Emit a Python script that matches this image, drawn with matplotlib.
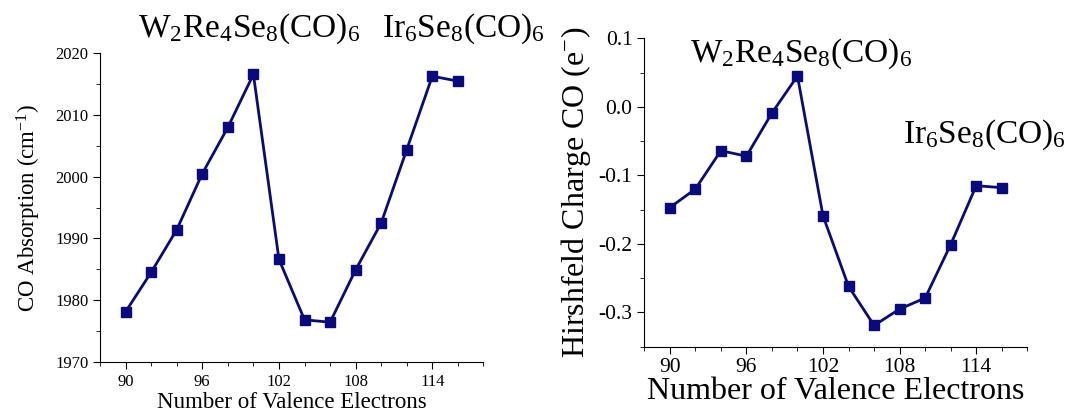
import numpy as np
import matplotlib
matplotlib.use("Agg")
import matplotlib.pyplot as plt
from matplotlib.ticker import MultipleLocator

# Datos: número de electrones de valencia y propiedades del CO
electrons = [90, 92, 94, 96, 98, 100, 102, 104, 106, 108, 110, 112, 114, 116]
co_absorption = [1978.1, 1984.5, 1991.4, 2000.5, 2008.0, 2016.6, 1986.6,
                 1976.8, 1976.4, 1984.9, 1992.5, 2004.4, 2016.3, 2015.5]
hirshfeld_co = [-0.147, -0.120, -0.064, -0.072, -0.009, 0.045, -0.159,
                -0.262, -0.319, -0.295, -0.279, -0.201, -0.115, -0.118]
x_ticks = [90, 96, 102, 108, 114]

plt.rcParams['font.family'] = ['Liberation Serif', 'DejaVu Serif']
plt.rcParams['mathtext.fontset'] = 'custom'
plt.rcParams['mathtext.rm'] = 'Liberation Serif'
plt.rcParams['mathtext.default'] = 'regular'
plt.rcParams['axes.unicode_minus'] = False

color = '#0a0a80'
label_w = r"W$_2$Re$_4$Se$_8$(CO)$_6$"
label_ir = r"Ir$_6$Se$_8$(CO)$_6$"

W, H = 1070, 415
fig = plt.figure(figsize=(W / 100, H / 100), dpi=100)


def estilo(ax, labelsize):
    ax.set_xlim(88, 118)
    ax.set_xticks(x_ticks)
    ax.xaxis.set_minor_locator(MultipleLocator(2))
    ax.tick_params(which='both', direction='out', labelsize=labelsize)
    ax.tick_params(which='major', length=5)
    ax.tick_params(which='minor', length=3)
    ax.spines['top'].set_visible(False)
    ax.spines['right'].set_visible(False)


# Absorción del CO
ax1 = fig.add_axes([0.0935, 0.1284, 0.3583, 0.743])
ax1.plot(electrons, co_absorption, color=color, linewidth=2,
         marker='s', markersize=6.5)
estilo(ax1, 12)
ax1.set_ylim(1970, 2020)
ax1.yaxis.set_major_locator(MultipleLocator(10))
ax1.yaxis.set_minor_locator(MultipleLocator(5))
ax1.set_xlabel("Number of Valence Electrons", fontsize=16.5, labelpad=2)
ax1.set_ylabel(r"CO Absorption (cm$^{-1}$)", fontsize=16.5)
ax1.yaxis.set_label_coords(-0.15, 0.5)

# Carga de Hirshfeld del CO
ax2 = fig.add_axes([0.6021, 0.1646, 0.358, 0.7431])
ax2.plot(electrons, hirshfeld_co, color=color, linewidth=2,
         marker='s', markersize=6.5)
estilo(ax2, 15.5)
ax2.set_ylim(-0.35, 0.1)
ax2.yaxis.set_major_locator(MultipleLocator(0.1))
ax2.yaxis.set_minor_locator(MultipleLocator(0.05))
ax2.set_xlabel("Number of Valence Electrons", fontsize=23, labelpad=0)
ax2.set_ylabel(r"Hirshfeld Charge CO (e$^{-}$)", fontsize=23)
ax2.yaxis.set_label_coords(-0.135, 0.5)

# Etiquetas de los compuestos
fig.text(138 / W, 1 - 37 / H, label_w, fontsize=24, ha='left', va='baseline')
fig.text(382 / W, 1 - 37 / H, label_ir, fontsize=24, ha='left', va='baseline')
fig.text(690 / W, 1 - 62 / H, label_w, fontsize=24, ha='left', va='baseline')
fig.text(903 / W, 1 - 143 / H, label_ir, fontsize=24, ha='left', va='baseline')

fig.savefig("out.png", dpi=100)
